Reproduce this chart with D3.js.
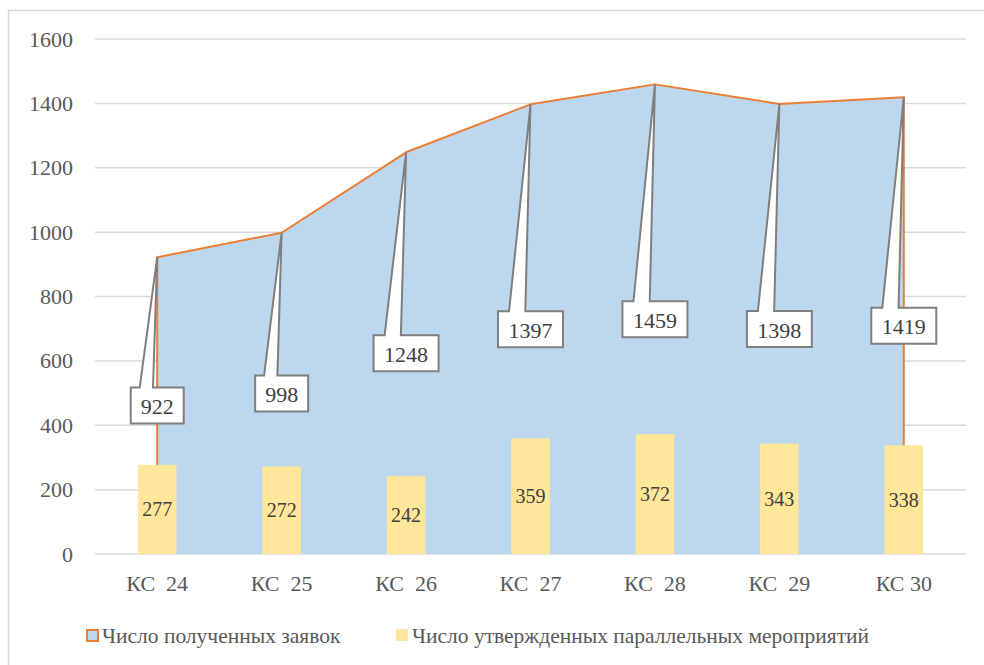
<!DOCTYPE html>
<html>
<head>
<meta charset="utf-8">
<script src="https://cdn.jsdelivr.net/npm/d3@7"></script>
<style>
  body { margin: 0; background: #fff; }
</style>
</head>
<body>
<script>
var categories = ["КС  24", "КС  25", "КС  26", "КС  27", "КС  28", "КС  29", "КС 30"],
    received = [922, 998, 1248, 1397, 1459, 1398, 1419],
    approved = [277, 272, 242, 359, 372, 343, 338],
    yTicks = [0, 200, 400, 600, 800, 1000, 1200, 1400, 1600],
    seriesNames = ["Число полученных заявок", "Число утвержденных параллельных мероприятий"];

var width = 984,
    height = 665,
    plotLeft = 95,
    plotRight = 966,
    plotTop = 39,
    plotBottom = 554;

var svg = d3.select("body").append("svg")
    .attr("width", width)
    .attr("height", height);

// chart frame
svg.append("rect")
    .attr("x", 8.5).attr("y", 10.5)
    .attr("width", 990).attr("height", 670)
    .style("fill", "none")
    .style("stroke", "#D9D9D9")
    .style("stroke-width", 1.5);

var x = d3.scaleBand()
    .domain(categories)
    .range([plotLeft, plotRight]);

var y = d3.scaleLinear()
    .domain([0, 1600])
    .range([plotBottom, plotTop]);

var cx = function(i) { return x(categories[i]) + x.bandwidth() / 2; };

// gridlines
svg.append("g")
    .selectAll("line")
    .data(yTicks)
  .enter().append("line")
    .attr("x1", plotLeft).attr("x2", plotRight)
    .attr("y1", function(d) { return y(d); })
    .attr("y2", function(d) { return y(d); })
    .style("stroke", "#D9D9D9")
    .style("stroke-width", 1.5);

// y axis labels
var yAxis = svg.append("g")
    .attr("transform", "translate(" + (plotLeft - 22) + ",0)")
    .call(d3.axisLeft(y).tickValues(yTicks).tickSize(0).tickPadding(0).tickFormat(d3.format("d")));
yAxis.select(".domain").remove();
yAxis.selectAll("text")
    .style("font-size", "22px")
    .style("fill", "#595959");

// area series
var area = d3.area()
    .x(function(d, i) { return cx(i); })
    .y0(y(0))
    .y1(function(d) { return y(d); });

svg.append("path")
    .datum(received)
    .attr("d", area)
    .style("fill", "#BDD7EE");

var outline = received.map(function(d, i) { return [cx(i), y(d)]; });
outline.unshift([cx(0), y(0)]);
outline.push([cx(received.length - 1), y(0)]);

svg.append("path")
    .attr("d", d3.line()(outline))
    .style("fill", "none")
    .style("stroke", "#ED7D31")
    .style("stroke-width", 2)
    .style("stroke-linejoin", "round");

// bars
var barW = x.bandwidth() * 0.31;

svg.append("g")
    .selectAll("rect")
    .data(approved)
  .enter().append("rect")
    .attr("x", function(d, i) { return cx(i) - barW / 2; })
    .attr("y", function(d) { return y(d); })
    .attr("width", barW)
    .attr("height", function(d) { return y(0) - y(d); })
    .style("fill", "#FFE699");

svg.append("g")
    .selectAll("text")
    .data(approved)
  .enter().append("text")
    .attr("x", function(d, i) { return cx(i); })
    .attr("y", function(d) { return y(d / 2); })
    .attr("text-anchor", "middle")
    .attr("dominant-baseline", "central")
    .style("font-size", "20px")
    .style("fill", "#404040")
    .text(function(d) { return d; });

// callouts for the area values
var callouts = svg.append("g")
    .selectAll("g")
    .data(received)
  .enter().append("g");

callouts.each(function(d, i) {
  var g = d3.select(this),
      px = cx(i),
      py = y(d),
      w = String(d).length > 3 ? 65 : 53,
      h = 36,
      bx = px - w / 2,
      by = y(d / 2) - h / 2,
      b1 = bx + w * 0.17,
      b2 = bx + w * 0.42;

  var p = d3.path();
  p.moveTo(bx, by);
  p.lineTo(b1, by);
  p.lineTo(px, py);
  p.lineTo(b2, by);
  p.lineTo(bx + w, by);
  p.lineTo(bx + w, by + h);
  p.lineTo(bx, by + h);
  p.closePath();

  g.append("path")
      .attr("d", p.toString())
      .style("fill", "#fff")
      .style("stroke", "#7F7F7F")
      .style("stroke-width", 2)
      .style("stroke-linejoin", "miter");

  g.append("text")
      .attr("x", bx + w / 2)
      .attr("y", by + h / 2 + 1)
      .attr("text-anchor", "middle")
      .attr("dominant-baseline", "central")
      .style("font-size", "22px")
      .style("fill", "#404040")
      .text(d);
});

// x axis labels
svg.append("g")
    .selectAll("text")
    .data(categories)
  .enter().append("text")
    .attr("x", function(d, i) { return cx(i); })
    .attr("y", 583)
    .attr("text-anchor", "middle")
    .attr("dominant-baseline", "central")
    .style("font-size", "22px")
    .style("fill", "#595959")
    .style("white-space", "pre")
    .text(function(d) { return d; });

// legend
var legend = svg.append("g");

legend.append("rect")
    .attr("x", 87).attr("y", 630)
    .attr("width", 11).attr("height", 11)
    .style("fill", "#BDD7EE")
    .style("stroke", "#ED7D31")
    .style("stroke-width", 2);

legend.append("text")
    .attr("x", 102).attr("y", 636)
    .attr("dominant-baseline", "central")
    .style("font-size", "21.5px")
    .style("fill", "#595959")
    .text(seriesNames[0]);

legend.append("rect")
    .attr("x", 396).attr("y", 629)
    .attr("width", 12).attr("height", 12)
    .style("fill", "#FFE699");

legend.append("text")
    .attr("x", 412).attr("y", 636)
    .attr("dominant-baseline", "central")
    .style("font-size", "21.5px")
    .style("fill", "#595959")
    .text(seriesNames[1]);

// all text in Times-like serif
svg.selectAll("text").style("font-family", "'Liberation Serif'");
</script>
</body>
</html>
